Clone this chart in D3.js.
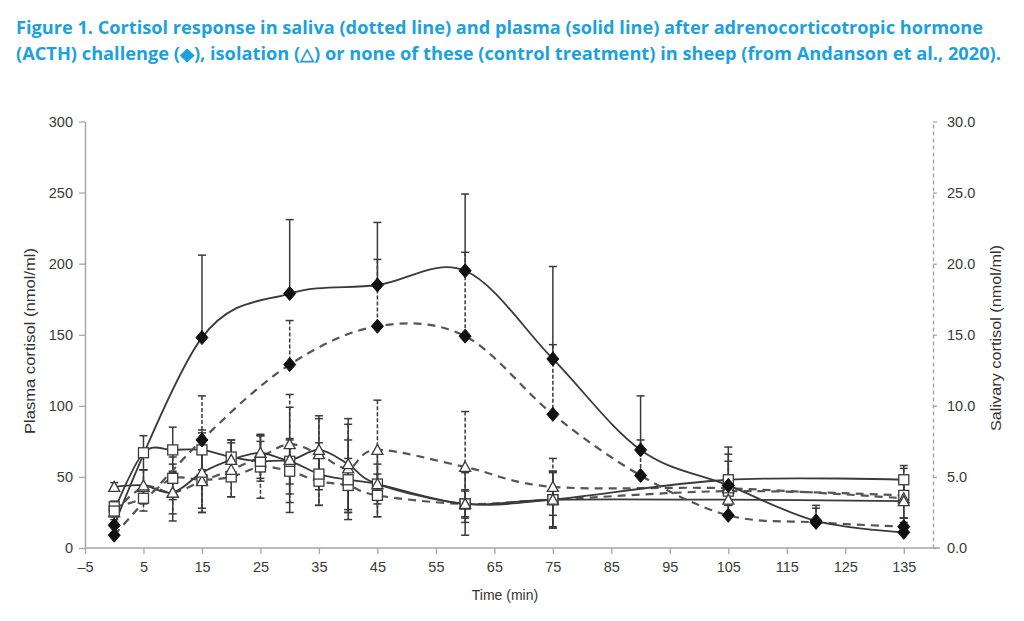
<!DOCTYPE html>
<html><head><meta charset="utf-8">
<script src="https://cdn.jsdelivr.net/npm/d3@7"></script>
<style>
html,body{margin:0;padding:0;background:#fff;}
svg{display:block;}
</style></head>
<body>
<svg id="c" width="1024" height="621"></svg>
<script>
// ---- data ----
const titleLines = [
  "Figure 1. Cortisol response in saliva (dotted line) and plasma (solid line) after adrenocorticotropic hormone",
  "(ACTH) challenge (\u25C6), isolation (\u25B3) or none of these (control treatment) in sheep (from Andanson et al., 2020)."
];
const xTicks = [-5,5,15,25,35,45,55,65,75,85,95,105,115,125,135];
const yTicks = [0,50,100,150,200,250,300];
const yTicksRight = [0,5,10,15,20,25,30];

const acthTimes = [0,15,30,45,60,75,90,105,120,135];
const acthPlasma = [16,148,179,185,195,133,69,44,19,11];
const acthPlasmaErr = [8,58,52,44,54,65,38,27,11,5];
const acthSaliva = [0.9,7.6,12.9,15.6,14.9,9.4,5.1,2.3,1.8,1.5];
const acthSalivaErr = [0.8,3.1,3.1,4.7,5.9,4.9,2.5,1.5,1.0,0.6];

const otherTimes = [0,5,10,15,20,25,30,35,40,45,60,75,105,135];
const ctrlPlasma = [26,67,69,69,64,61,61,52,48,45,31,34,48,48];
const ctrlPlasmaErr = [4,12,16,14,12,14,16,22,28,14,10,20,18,10];
const isoPlasma = [43,44,39,53,62,67,62,69,59,45,31,34,34,33];
const isoPlasmaErr = [3,11,20,28,14,13,37,24,32,23,22,20,12,12];
const ctrlSaliva = [2.9,3.5,4.9,4.8,5.0,5.7,5.4,4.7,4.4,3.7,3.1,3.4,4.0,3.7];
const ctrlSalivaErr = [0.4,0.9,1.5,2.0,1.4,2.2,2.2,1.7,1.9,1.5,0.9,1.9,1.0,1.9];
const isoSaliva = [2.5,4.3,3.9,4.7,5.5,6.4,7.3,6.6,5.6,6.9,5.7,4.3,4.2,3.5];
const isoSalivaErr = [0.5,1.2,1.5,2.2,1.9,1.5,3.5,2.5,3.1,3.5,3.9,2.0,1.9,1.4];

// ---- chart ----
const svg = d3.select("#c");
const x = d3.scaleLinear().domain([-5,140]).range([85,933]);
const yL = d3.scaleLinear().domain([0,300]).range([548,121.5]);
const yR = d3.scaleLinear().domain([0,30]).range([548,121.5]);

// title
const tcol = "#1da1dc";
svg.append("text").attr("x",16).attr("y",34).attr("fill",tcol)
  .attr("font-family","Open Sans").attr("font-weight",700).attr("font-size",17)
  .attr("textLength",967).attr("lengthAdjust","spacingAndGlyphs").text(titleLines[0]);
svg.append("text").attr("x",16).attr("y",60).attr("fill",tcol)
  .attr("font-family","Open Sans").attr("font-weight",700).attr("font-size",17)
  .attr("textLength",985).attr("lengthAdjust","spacingAndGlyphs").text(titleLines[1]);

const font = "Liberation Sans, Arial, sans-serif";
function styleAxis(g, dashed){
  g.selectAll(".domain").attr("stroke","#a6a6a6").attr("stroke-width",1.5)
    .attr("stroke-dasharray", dashed ? "4,3" : null);
  g.selectAll(".tick line").attr("stroke","#a6a6a6").attr("stroke-width",1.3);
  g.selectAll(".tick text").attr("fill","#3a3a3a").attr("font-family",font).attr("font-size",14.5);
}
const gx = svg.append("g").attr("transform","translate(0,548)")
  .call(d3.axisBottom(x).tickValues(xTicks).tickSize(6).tickSizeOuter(0).tickPadding(8)
    .tickFormat(d => d < 0 ? "\u2013" + Math.abs(d) : d));
styleAxis(gx,false);
gx.select(".domain").attr("d","M85,0H940");
const gl = svg.append("g").attr("transform","translate(85,0)")
  .call(d3.axisLeft(yL).tickValues(yTicks).tickSize(6).tickSizeOuter(0).tickPadding(6));
styleAxis(gl,false);
const gr = svg.append("g").attr("transform","translate(933,0)")
  .call(d3.axisRight(yR).tickValues(yTicksRight).tickSize(4).tickSizeOuter(0).tickPadding(10)
    .tickFormat(d3.format(".1f")));
styleAxis(gr,true);

svg.append("text").attr("transform","translate(35,341) rotate(-90)").attr("text-anchor","middle")
  .attr("font-family",font).attr("font-size",15).attr("fill","#333")
  .attr("textLength",186).attr("lengthAdjust","spacingAndGlyphs").text("Plasma cortisol (nmol/ml)");
svg.append("text").attr("transform","translate(1001,338) rotate(-90)").attr("text-anchor","middle")
  .attr("font-family",font).attr("font-size",15).attr("fill","#333")
  .attr("textLength",186).attr("lengthAdjust","spacingAndGlyphs").text("Salivary cortisol (nmol/ml)");
svg.append("text").attr("x",505).attr("y",600).attr("text-anchor","middle")
  .attr("font-family",font).attr("font-size",14).attr("fill","#333").text("Time (min)");

const series = [
  {t:otherTimes, v:ctrlSaliva, e:ctrlSalivaErr, y:yR, dash:true, m:"sq", both:true},
  {t:otherTimes, v:isoSaliva, e:isoSalivaErr, y:yR, dash:true, m:"tri", both:true},
  {t:otherTimes, v:ctrlPlasma, e:ctrlPlasmaErr, y:yL, dash:false, m:"sq", both:true},
  {t:otherTimes, v:isoPlasma, e:isoPlasmaErr, y:yL, dash:false, m:"tri", both:true},
  {t:acthTimes, v:acthSaliva, e:acthSalivaErr, y:yR, dash:true, m:"dia", both:false},
  {t:acthTimes, v:acthPlasma, e:acthPlasmaErr, y:yL, dash:false, m:"dia", both:false}
];
const lineCol = "#3a3a3a";
const gE = svg.append("g"), gLn = svg.append("g"), gM = svg.append("g");

series.forEach(s => {
  const pts = s.t.map((t,i)=>({t, v:s.v[i], e:s.e[i]}));
  pts.forEach(p => {
    const cx = x(p.t);
    const top = s.y(p.v + p.e), bot = s.both ? s.y(Math.max(0,p.v - p.e)) : s.y(p.v);
    gE.append("line").attr("x1",cx).attr("x2",cx).attr("y1",top).attr("y2",bot)
      .attr("stroke",lineCol).attr("stroke-width",1.5).attr("stroke-dasharray", s.dash ? "4,2" : null);
    gE.append("line").attr("x1",cx-4).attr("x2",cx+4).attr("y1",top).attr("y2",top)
      .attr("stroke",lineCol).attr("stroke-width",1.5);
    if (s.both) gE.append("line").attr("x1",cx-4).attr("x2",cx+4).attr("y1",bot).attr("y2",bot)
      .attr("stroke",lineCol).attr("stroke-width",1.5);
  });
  const line = d3.line().x(d=>x(d.t)).y(d=>s.y(d.v)).curve(d3.curveCardinal.tension(0));
  gLn.append("path").datum(pts).attr("d",line).attr("fill","none")
    .attr("stroke", s.dash ? "#555" : lineCol).attr("stroke-width", s.dash ? 2.2 : 1.8)
    .attr("stroke-dasharray", s.dash ? "8,6" : null);
  pts.forEach(p => {
    const cx = x(p.t), cy = s.y(p.v);
    if (s.m === "dia") {
      gM.append("path").attr("d",`M${cx},${cy-7}L${cx+6},${cy}L${cx},${cy+7}L${cx-6},${cy}Z`)
        .attr("fill","#111").attr("stroke","#111").attr("stroke-width",1);
    } else if (s.m === "sq") {
      gM.append("rect").attr("x",cx-5).attr("y",cy-5).attr("width",10).attr("height",10)
        .attr("fill","#fff").attr("stroke",lineCol).attr("stroke-width",1.3);
    } else {
      gM.append("path").attr("d",`M${cx},${cy-5.5}L${cx+5.5},${cy+4.5}L${cx-5.5},${cy+4.5}Z`)
        .attr("fill","#fff").attr("stroke",lineCol).attr("stroke-width",1.3);
    }
  });
});
</script>
</body></html>
